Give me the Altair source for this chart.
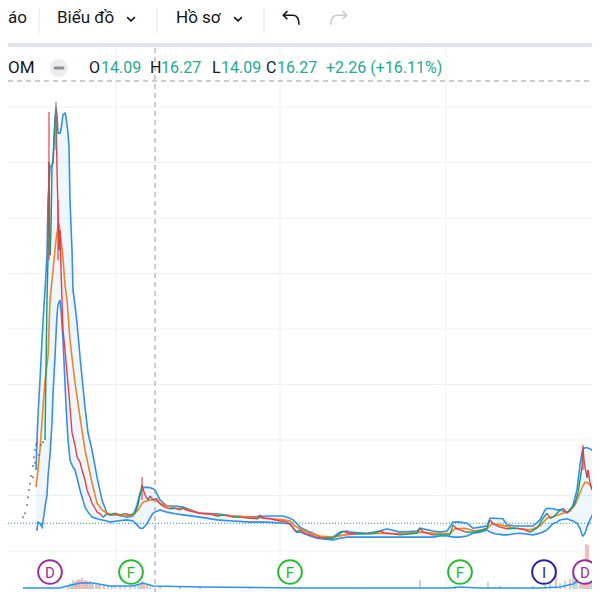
import altair as alt
import pandas as pd
import numpy as np

# ------------------------------------------------------------------
# Data (x = bar position, y = price)
# ------------------------------------------------------------------
year_start_bars = [116, 280, 446]
price_grid = [10, 20, 30, 40, 50, 60, 70, 80, 90]
last_price = 15.0
crosshair_bar = 155

band_bars = [36, 37, 38, 40, 42, 44, 45, 47, 48, 50,
             52, 53, 55, 56, 57, 58, 60, 61, 63, 65,
             66, 68, 69, 70, 72, 73, 75, 77, 80, 85,
             88, 92, 97, 102, 107, 110, 117, 127, 133, 137,
             140, 143, 147, 150, 153, 155, 160, 167, 175, 183,
             200, 217, 233, 250, 267, 283, 290, 293, 297, 300,
             310, 317, 320, 333, 340, 347, 350, 367, 380, 387,
             400, 417, 420, 433, 440, 447, 453, 460, 467, 473,
             480, 487, 490, 495, 503, 507, 515, 520, 533, 540,
             545, 547, 553, 557, 560, 567, 570, 573, 577, 580,
             582, 583, 585, 587, 590, 593, 595, 597, 600]
band_upper = [24.6, 30.0, 34.5, 40.8, 48.0, 54.3, 57.0, 63.3, 73.2, 79.2,
              79.5, 79.9, 87.7, 90.0, 88.6, 85.3, 85.3, 85.9, 88.6, 88.9,
              88.2, 85.3, 82.8, 73.2, 64.2, 57.0, 54.3, 51.1, 45.0, 35.9,
              31.3, 28.2, 23.3, 19.2, 16.8, 16.5, 16.5, 16.1, 16.3, 18.3,
              20.5, 21.4, 21.5, 21.4, 21.2, 21.0, 19.2, 18.1, 18.1, 17.9,
              16.8, 16.7, 16.3, 16.1, 16.3, 16.3, 15.9, 15.6, 14.9, 14.3,
              13.4, 12.9, 12.5, 12.5, 13.4, 13.6, 13.4, 13.2, 13.6, 14.0,
              13.4, 13.6, 14.1, 13.6, 13.4, 13.6, 15.2, 15.2, 15.0, 14.1,
              14.3, 14.5, 15.9, 15.9, 15.8, 14.7, 14.5, 14.5, 14.5, 15.6,
              17.4, 17.7, 17.6, 17.4, 17.4, 17.0, 17.2, 18.3, 21.0, 25.5,
              27.8, 28.4, 28.6, 28.6, 28.4, 28.0, 27.5, 26.8, 25.5]
band_lower = [13.8, 13.8, 15.2, 15.0, 14.3, 16.5, 17.9, 20.1, 23.3, 27.3,
              33.1, 38.1, 45.0, 48.9, 52.5, 54.3, 55.2, 53.4, 48.0, 40.3,
              36.3, 30.0, 28.2, 26.4, 25.5, 25.1, 24.6, 23.2, 21.0, 17.9,
              17.0, 16.1, 15.8, 15.6, 15.4, 15.2, 15.4, 15.6, 15.4, 14.7,
              14.1, 14.1, 14.9, 15.9, 16.8, 17.0, 17.4, 17.0, 16.7, 16.5,
              16.1, 15.6, 15.4, 15.2, 15.2, 15.0, 14.9, 14.1, 13.4, 13.4,
              12.7, 12.3, 12.2, 12.0, 12.3, 12.5, 12.5, 12.5, 12.5, 12.5,
              12.5, 12.5, 12.5, 12.5, 12.7, 12.7, 12.5, 12.5, 12.7, 13.2,
              13.4, 13.8, 13.4, 13.1, 12.9, 12.9, 13.1, 13.2, 12.9, 13.2,
              13.6, 13.8, 14.9, 15.2, 15.6, 15.8, 15.6, 15.4, 15.0, 14.1,
              12.9, 12.7, 13.2, 14.3, 15.6, 16.7, 16.8, 16.8, 17.0]

close_bars = [45, 47, 48, 49, 50, 51, 52, 53, 54, 55,
              56, 57, 58, 59, 60, 61, 62, 63, 65, 67,
              69, 70, 72, 75, 77, 80, 82, 85, 87, 90,
              92, 95, 97, 100, 103, 107, 110, 115, 120, 125,
              130, 135, 138, 140, 142, 144, 146, 148, 150, 153,
              156, 160, 165, 170, 175, 180, 183, 186, 190, 195,
              200, 210, 217, 225, 233, 240, 250, 258, 260, 263,
              270, 280, 287, 292, 296, 300, 305, 310, 317, 325,
              333, 340, 343, 347, 355, 367, 375, 380, 385, 393,
              400, 410, 417, 420, 423, 433, 440, 450, 453, 456,
              460, 466, 473, 480, 487, 490, 493, 500, 507, 517,
              525, 530, 537, 541, 543, 547, 550, 553, 557, 560,
              563, 567, 570, 573, 576, 578, 580, 582, 583, 584,
              585, 587, 588, 590, 592, 594, 595, 597, 600]
close_prices = [30.0, 55.2, 63.0, 80.1, 63.3, 67.8, 79.5, 80.5, 84.1, 87.7,
                89.5, 78.6, 71.4, 64.2, 67.8, 60.6, 55.2, 49.8, 46.2, 42.1,
                38.1, 35.9, 31.3, 29.1, 26.9, 26.0, 24.6, 22.8, 21.0, 19.7,
                18.6, 17.7, 17.0, 16.7, 16.1, 16.7, 16.5, 16.8, 16.5, 16.7,
                16.5, 16.8, 18.3, 20.1, 21.9, 20.6, 19.7, 19.2, 19.9, 19.2,
                19.5, 18.5, 17.9, 17.6, 17.7, 17.4, 17.9, 17.4, 17.2, 17.0,
                16.8, 16.7, 16.3, 16.5, 16.1, 16.1, 15.9, 15.8, 16.5, 15.9,
                15.8, 15.4, 15.2, 14.5, 13.4, 13.8, 13.2, 12.9, 12.5, 12.3,
                12.3, 13.1, 13.6, 13.2, 13.1, 13.1, 13.2, 13.6, 13.2, 13.1,
                12.9, 13.1, 13.2, 14.1, 13.4, 12.9, 12.9, 12.9, 14.7, 14.1,
                13.8, 13.4, 13.4, 13.6, 14.1, 15.6, 14.9, 14.3, 14.0, 14.1,
                13.8, 13.4, 14.1, 15.2, 15.9, 16.8, 15.9, 16.1, 16.8, 17.4,
                17.7, 16.8, 17.6, 17.9, 19.2, 20.5, 22.8, 25.1, 28.7, 26.4,
                25.1, 23.2, 24.6, 22.3, 21.0, 21.9, 19.2, 19.7, 18.6]

ma_bars = [36, 38, 40, 43, 45, 48, 50, 53, 56, 58,
           59, 61, 63, 65, 67, 70, 75, 80, 85, 92,
           97, 102, 107, 115, 125, 133, 138, 143, 150, 155,
           160, 167, 175, 183, 200, 217, 233, 250, 267, 283,
           290, 295, 300, 310, 320, 333, 345, 360, 380, 400,
           420, 440, 450, 455, 465, 475, 487, 492, 500, 515,
           530, 540, 547, 555, 563, 570, 575, 578, 582, 585,
           588, 592, 596, 600]
ma_prices = [21.5, 24.6, 28.2, 35.9, 40.8, 45.0, 55.2, 60.6, 66.0, 68.4,
             69.1, 66.0, 62.8, 57.9, 55.2, 48.0, 40.3, 34.1, 28.2, 22.3,
             18.6, 17.4, 16.8, 16.5, 16.3, 16.5, 17.4, 18.8, 19.2, 19.2,
             18.6, 18.1, 17.7, 17.6, 16.8, 16.5, 16.3, 16.1, 15.9, 15.6,
             15.4, 14.5, 14.0, 13.2, 12.7, 12.5, 12.9, 13.1, 13.2, 13.1,
             13.4, 13.1, 13.2, 14.0, 14.1, 13.6, 14.0, 14.9, 14.7, 14.1,
             13.8, 14.5, 15.9, 16.3, 16.8, 17.2, 18.3, 19.5, 21.4, 22.4,
             22.3, 21.4, 20.3, 19.5]

early_bars = [23, 25, 27, 28, 29, 30, 31, 33, 33, 34, 35, 35, 36, 37, 39, 41, 43]
early_prices = [16.1, 16.8, 18.3, 19.7, 21.0, 22.1, 23.5, 25.3, 23.3, 26.9,
                28.2, 25.9, 29.1, 29.5, 27.3, 29.1, 29.6]

wick_bars = [49, 56, 58, 142, 583]
wick_high = [89.1, 90.9, 73.2, 23.3, 29.1]
wick_low = [62.4, 82.3, 62.4, 19.2, 24.6]
wick_dir = ["down", "flat", "down", "down", "down"]

vol_bars = [68, 70, 72, 73, 75, 76, 78, 79, 80, 82,
            84, 85, 87, 88, 90, 92, 93, 96, 98, 100,
            104, 108, 112, 115, 120, 125, 130, 135, 138, 140,
            142, 144, 147, 150, 160, 180, 200, 250, 300, 360,
            420, 455, 488, 500, 520, 533, 545, 550, 556, 560,
            565, 570, 573, 575, 577, 580, 582, 584, 586, 588,
            590, 592, 593, 595, 597, 599]
vol_values = [3, 6, 5, 9, 7, 8, 10, 6, 9, 11,
              7, 9, 8, 6, 8, 5, 6, 5, 4, 5,
              4, 4, 3, 3, 3, 3, 2, 3, 4, 6,
              8, 5, 4, 3, 3, 2, 2, 2, 2, 2,
              9, 3, 7, 3, 2, 3, 4, 6, 22, 6,
              8, 10, 17, 14, 20, 12, 25, 30, 45, 44,
              28, 20, 46, 60, 54, 35]
vol_dir = ["d", "u", "d", "u", "d", "d", "d", "u", "d", "d",
           "u", "d", "d", "u", "d", "d", "u", "d", "u", "d",
           "d", "u", "d", "u", "d", "u", "d", "u", "u", "u",
           "d", "d", "d", "u", "d", "d", "u", "d", "d", "u",
           "u", "u", "u", "d", "u", "u", "u", "u", "d", "u",
           "u", "d", "u", "u", "u", "d", "u", "d", "d", "d",
           "u", "d", "d", "d", "d", "u"]

volma_bars = [23, 60, 67, 80, 93, 110, 133, 143, 153, 200,
              300, 450, 460, 480, 540, 560, 573, 582, 590, 600]
volma_values = [1, 1, 3, 6, 6, 3, 3, 6, 3, 2,
                1, 1, 2, 1, 1, 2, 5, 11, 15, 17]

event_bars = [50, 131, 290, 460, 544, 585]
event_labels = ["D", "F", "F", "F", "I", "D"]

symbol_tail = "OM"
ohlc_keys = ["O", "H", "L", "C"]
ohlc_vals = ["14.09", "16.27", "14.09", "16.27"]
change_label = "+2.26 (+16.11%)"
menu_labels = ["áo", "Biểu đồ", "Hồ sơ"]

# ------------------------------------------------------------------
RED = "#ef3b45"
GREEN = "#179b70"
BLUE = "#3190ee"
ORANGE = "#f5841f"
TEAL = "#22ab94"
DARK = "#131722"
GRID = "#edf0f5"
W, H = 584, 584

xs = alt.Scale(domain=[8, 592], nice=False, zero=False)
ys = alt.Scale(domain=[2.61, 107.84], nice=False, zero=False)
vs = alt.Scale(domain=[-3, 581], nice=False, zero=False)

one = pd.DataFrame({"k": [0]})

bands = pd.DataFrame({"bar": band_bars, "upper": band_upper, "lower": band_lower})
cl = pd.DataFrame({"bar": close_bars, "p": close_prices})
cl["bar2"] = cl["bar"].shift(-1)
cl["p2"] = cl["p"].shift(-1)
cl = cl.dropna()
cl["dir"] = np.where(cl["p2"] >= cl["p"], "up", "down")
ma = pd.DataFrame({"bar": ma_bars, "p": ma_prices})
early = pd.DataFrame({"bar": early_bars, "p": early_prices})
wicks = pd.DataFrame({"bar": wick_bars, "hi": wick_high, "lo": wick_low, "dir": wick_dir})
vol = pd.DataFrame({"bar": vol_bars, "v": vol_values, "dir": vol_dir})
vol["zero"] = 0
volma = pd.DataFrame({"bar": volma_bars, "v": volma_values})
events = pd.DataFrame({"bar": event_bars, "label": event_labels})

def X(f="bar:Q"):
    return alt.X(f, scale=xs, axis=None)

def Y(f):
    return alt.Y(f, scale=ys, axis=None)

dir_color = alt.Color("dir:N", scale=alt.Scale(domain=["up", "down", "flat"],
                                               range=[GREEN, RED, "#8a7a80"]), legend=None)
ev_color = alt.Color("label:N", scale=alt.Scale(domain=["D", "F", "I"],
                                                range=["#9a2f9a", "#1fbf2a", "#2222a8"]), legend=None)

layers = []
# grid
layers.append(alt.Chart(pd.DataFrame({"bar": year_start_bars})).mark_rule(color=GRID, strokeWidth=1)
              .encode(x=X(), y=alt.value(40), y2=alt.value(H)))
layers.append(alt.Chart(pd.DataFrame({"p": price_grid})).mark_rule(color=GRID, strokeWidth=1)
              .encode(y=Y("p:Q"), x=alt.value(0), x2=alt.value(W)))
# bands
layers.append(alt.Chart(bands).mark_area(color="#2196f3", opacity=0.08)
              .encode(x=X(), y=Y("upper:Q"), y2="lower:Q"))
layers.append(alt.Chart(bands).mark_line(color=BLUE, strokeWidth=1.6)
              .encode(x=X(), y=Y("upper:Q")))
layers.append(alt.Chart(bands).mark_line(color=BLUE, strokeWidth=1.6)
              .encode(x=X(), y=Y("lower:Q")))
# moving average
layers.append(alt.Chart(ma).mark_line(color=ORANGE, strokeWidth=1.6)
              .encode(x=X(), y=Y("p:Q")))
# last price line
layers.append(alt.Chart(pd.DataFrame({"p": [last_price]})).mark_rule(color="#1f9aa8", strokeDash=[1, 2], strokeWidth=1.2)
              .encode(y=Y("p:Q"), x=alt.value(0), x2=alt.value(W)))
# candles as segments
layers.append(alt.Chart(cl).mark_rule(strokeWidth=1.4)
              .encode(x=X(), x2="bar2:Q", y=Y("p:Q"), y2="p2:Q", color=dir_color))
layers.append(alt.Chart(wicks).mark_rule(strokeWidth=1.2)
              .encode(x=X(), y=Y("hi:Q"), y2="lo:Q", color=dir_color))
layers.append(alt.Chart(early).mark_circle(size=4, color="#707070", opacity=0.9)
              .encode(x=X(), y=Y("p:Q")))
# volume
layers.append(alt.Chart(vol).mark_rule(strokeWidth=1.5)
              .encode(x=X(), y=alt.Y("v:Q", scale=vs, axis=None), y2="zero:Q",
                      color=alt.Color("dir:N", scale=alt.Scale(domain=["u", "d"], range=["#9ed6c5", "#f5a3a3"]),
                                      legend=None)))
layers.append(alt.Chart(volma).mark_line(color=BLUE, strokeWidth=1.6)
              .encode(x=X(), y=alt.Y("v:Q", scale=vs, axis=None)))
# crosshair
layers.append(alt.Chart(pd.DataFrame({"bar": [crosshair_bar]})).mark_rule(color="#9598a1", strokeDash=[5, 4], strokeWidth=1)
              .encode(x=X(), y=alt.value(40), y2=alt.value(H)))
layers.append(alt.Chart(one).mark_rule(color="#9598a1", strokeDash=[5, 4], strokeWidth=1)
              .encode(x=alt.value(0), x2=alt.value(W), y=alt.value(73)))
# events
layers.append(alt.Chart(events).mark_point(shape="circle", filled=True, fill="white", size=560, strokeWidth=2, opacity=1)
              .encode(x=X(), y=alt.value(564), stroke=alt.Stroke("label:N", scale=alt.Scale(domain=["D", "F", "I"],
                      range=["#9a2f9a", "#1fbf2a", "#2222a8"]), legend=None)))
layers.append(alt.Chart(events).mark_text(font="Roboto", fontSize=15, baseline="middle", align="center", dy=1)
              .encode(x=X(), y=alt.value(564), text="label:N", color=ev_color))

# toolbar chrome
layers.append(alt.Chart(one).mark_rect(color="#e0e3eb")
              .encode(x=alt.value(0), x2=alt.value(W), y=alt.value(35), y2=alt.value(39)))
for sx in [31, 149, 256]:
    layers.append(alt.Chart(one).mark_rule(color="#e0e3eb", strokeWidth=1)
                  .encode(x=alt.value(sx), y=alt.value(0), y2=alt.value(25)))

def txt(s, x, y, color, size=16, align="left"):
    return alt.Chart(one).mark_text(text=s, font="Roboto", fontSize=size, align=align,
                                    baseline="middle", color=color).encode(x=alt.value(x), y=alt.value(y))

layers.append(txt(menu_labels[0], 0, 10, DARK, 17))
layers.append(txt(menu_labels[1], 49, 10, DARK, 17))
layers.append(txt(menu_labels[2], 168, 10, DARK, 17))
chev = "M-1,-0.5L0,0.5L1,-0.5"
for cx in [123, 230]:
    layers.append(alt.Chart(one).mark_point(shape=chev, filled=False, size=60, strokeWidth=1.6, color=DARK, opacity=1)
                  .encode(x=alt.value(cx), y=alt.value(11)))
undo = "M-0.45,-0.85L-0.95,-0.35L-0.45,0.15M-0.95,-0.35L0.25,-0.35C0.8,-0.35 1,0.05 1,0.85"
redo = "M0.45,-0.85L0.95,-0.35L0.45,0.15M0.95,-0.35L-0.25,-0.35C-0.8,-0.35 -1,0.05 -1,0.85"
layers.append(alt.Chart(one).mark_point(shape=undo, filled=False, size=260, strokeWidth=1.6, color=DARK, opacity=1)
              .encode(x=alt.value(283), y=alt.value(10)))
layers.append(alt.Chart(one).mark_point(shape=redo, filled=False, size=260, strokeWidth=1.6, color="#c8cbd1", opacity=1)
              .encode(x=alt.value(331), y=alt.value(10)))

# legend row
layers.append(txt(symbol_tail, 0, 60, DARK, 17))
layers.append(alt.Chart(one).mark_point(shape="circle", filled=True, size=324, color="#ebecee", opacity=1)
              .encode(x=alt.value(51), y=alt.value(60)))
layers.append(alt.Chart(one).mark_rule(color="#8c8f96", strokeWidth=3, strokeCap="round")
              .encode(x=alt.value(47), x2=alt.value(55), y=alt.value(60)))
key_x = [81, 142, 204, 258]
val_x = [93, 153, 213, 269]
for k, v, kx, vx in zip(ohlc_keys, ohlc_vals, key_x, val_x):
    layers.append(txt(k, kx, 60, DARK))
    layers.append(txt(v, vx, 60, TEAL))
layers.append(txt(change_label, 318, 60, TEAL))

chart = alt.layer(*layers).resolve_scale(y="independent", color="independent", stroke="independent").properties(
    width=W, height=H, padding=0, autosize=alt.AutoSizeParams(type="none"), background="white"
).configure_view(strokeWidth=0)

chart.save("out.html", embed_options={"renderer": "svg", "actions": False})
